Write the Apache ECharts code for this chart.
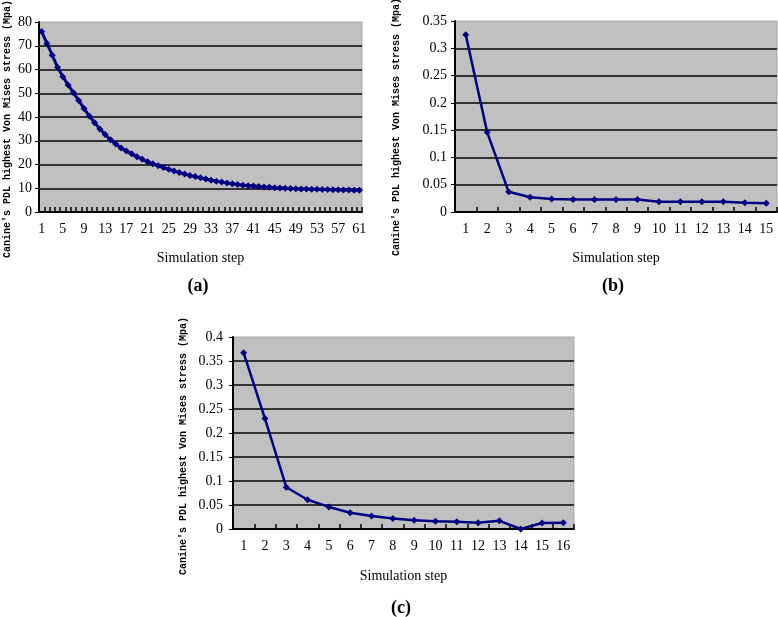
<!DOCTYPE html>
<html>
<head>
<meta charset="utf-8">
<script src="https://cdn.jsdelivr.net/npm/echarts@6/dist/echarts.min.js"></script>
<style>html,body{margin:0;padding:0;background:#fff}#c{width:778px;height:617px}</style>
</head>
<body>
<div id="c"></div>
<script>
// ---- data ----
const stepsA = Array.from({length: 61}, (_, i) => String(i + 1));
const valuesA = [76, 71, 66, 61, 57, 53.5, 50.2, 47, 43.6, 40.4,
  37.6, 35, 32.6, 30.4, 28.6, 27, 25.7, 24.5, 23.3, 22.2,
  21.2, 20.3, 19.5, 18.7, 18, 17.3, 16.6, 16, 15.4, 14.9,
  14.4, 13.9, 13.4, 13, 12.6, 12.2, 11.9, 11.6, 11.3, 11.1,
  10.9, 10.7, 10.5, 10.4, 10.2, 10.1, 10, 9.9, 9.8, 9.7,
  9.7, 9.6, 9.6, 9.5, 9.5, 9.4, 9.4, 9.3, 9.3, 9.2, 9.2];
const stepsB = Array.from({length: 15}, (_, i) => String(i + 1));
const valuesB = [0.325, 0.146, 0.037, 0.027, 0.024, 0.023, 0.023, 0.023, 0.023, 0.019, 0.019, 0.019, 0.019, 0.017, 0.016];
const stepsC = Array.from({length: 16}, (_, i) => String(i + 1));
const valuesC = [0.367, 0.23, 0.087, 0.061, 0.046, 0.034, 0.027, 0.022, 0.018, 0.016, 0.015, 0.013, 0.017, 0.0, 0.0125, 0.013];
const yTitle = "Canine's PDL highest Von Mises stress (Mpa)";
const xTitle = "Simulation step";
const panelLabels = ["(a)", "(b)", "(c)"];

// ---- styling ----
const lineColor = '#000080';
const labelFont = { color: '#000', fontFamily: 'Liberation Serif', fontSize: 14 };

function xAxis(gridIndex, data, labelInterval, nameGap) {
  return {
    type: 'category', gridIndex, data, boundaryGap: true,
    name: xTitle, nameLocation: 'middle', nameGap,
    nameTextStyle: { color: '#000', fontFamily: 'Liberation Serif', fontSize: 14 },
    axisLine: { lineStyle: { color: '#000', width: 2 } },
    axisTick: { show: true, inside: true, length: 5, interval: 0, lineStyle: { color: '#000', width: 1.5 } },
    axisLabel: Object.assign({ interval: labelInterval, margin: 10 }, labelFont),
    splitLine: { show: false }
  };
}
function yAxis(gridIndex, max, interval, margin) {
  return {
    type: 'value', gridIndex, min: 0, max, interval,
    axisLine: { show: true, lineStyle: { color: '#000', width: 2 } },
    axisTick: { show: true, inside: false, length: 4, lineStyle: { color: '#000' } },
    axisLabel: Object.assign({ margin }, labelFont),
    splitLine: { show: true, showMaxLine: false, lineStyle: { color: '#333', width: 2 } }
  };
}
function series(i, data, width, size) {
  return {
    type: 'line', xAxisIndex: i, yAxisIndex: i, data,
    symbol: 'diamond', symbolSize: size, showSymbol: true, showAllSymbol: true,
    lineStyle: { color: lineColor, width },
    itemStyle: { color: lineColor },
    animation: false
  };
}
const gridStyle = { show: true, backgroundColor: '#c0c0c0', borderColor: '#a8a8a8', borderWidth: 1 };

const titleStyle = { fill: '#000', font: 'bold 10px "Liberation Mono"', textAlign: 'center', textVerticalAlign: 'middle' };
const panelStyle = { fill: '#000', font: 'bold 18px "Liberation Serif"', textAlign: 'center', textVerticalAlign: 'middle' };

const chart = echarts.init(document.getElementById('c'), null, { renderer: 'canvas' });
chart.setOption({
  backgroundColor: '#fff',
  animation: false,
  grid: [
    Object.assign({ left: 39, top: 22, width: 323, height: 190 }, gridStyle),
    Object.assign({ left: 455, top: 21, width: 322, height: 191 }, gridStyle),
    Object.assign({ left: 233, top: 337, width: 341, height: 192 }, gridStyle)
  ],
  xAxis: [xAxis(0, stepsA, 3, 39), xAxis(1, stepsB, 0, 39), xAxis(2, stepsC, 0, 40)],
  yAxis: [yAxis(0, 80, 10, 7), yAxis(1, 0.35, 0.05, 8), yAxis(2, 0.4, 0.05, 10)],
  series: [series(0, valuesA, 3, 7), series(1, valuesB, 2.5, 7), series(2, valuesC, 2.5, 7)],
  graphic: [
    { type: 'text', x: 7, y: 129, rotation: Math.PI / 2, style: Object.assign({ text: yTitle }, titleStyle) },
    { type: 'text', x: 396, y: 127, rotation: Math.PI / 2, style: Object.assign({ text: yTitle }, titleStyle) },
    { type: 'text', x: 183, y: 446, rotation: Math.PI / 2, style: Object.assign({ text: yTitle }, titleStyle) },
    { type: 'text', x: 198, y: 286, style: Object.assign({ text: panelLabels[0] }, panelStyle) },
    { type: 'text', x: 613, y: 286, style: Object.assign({ text: panelLabels[1] }, panelStyle) },
    { type: 'text', x: 401, y: 608, style: Object.assign({ text: panelLabels[2] }, panelStyle) }
  ]
});
</script>
</body>
</html>
